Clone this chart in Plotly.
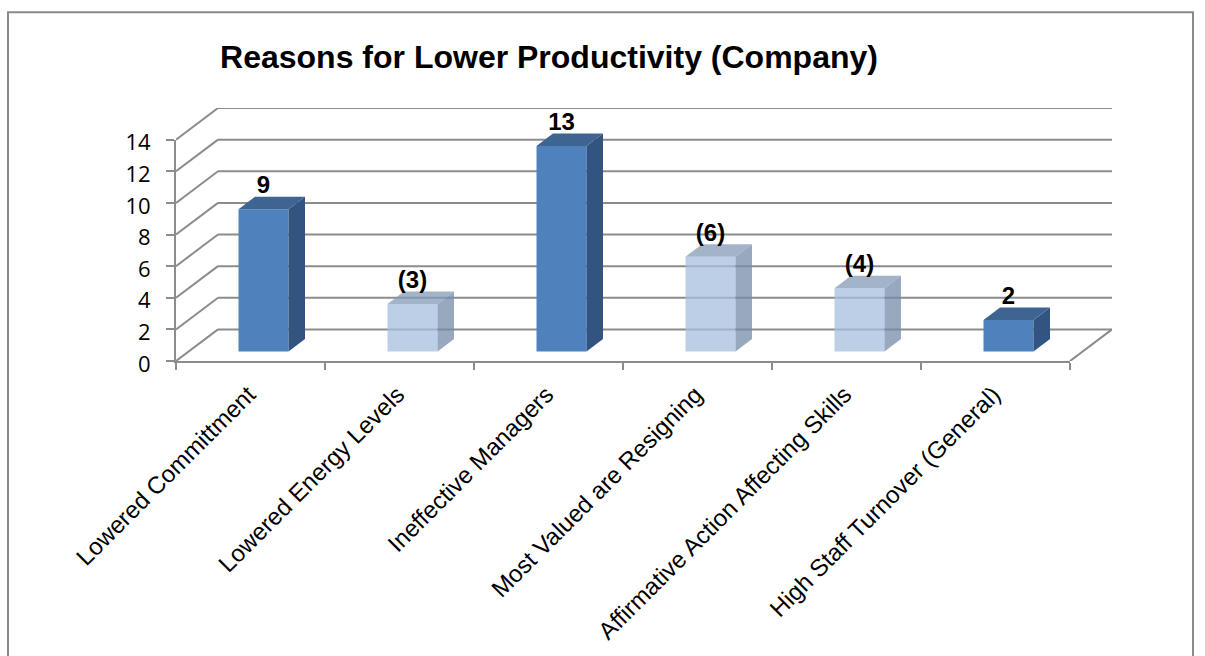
import plotly.graph_objects as go

TITLE = "Reasons for Lower Productivity (Company)"
categories = ["Lowered Committment", "Lowered Energy Levels", "Ineffective Managers",
              "Most Valued are Resigning", "Affirmative Action Affecting Skills",
              "High Staff Turnover (General)"]
values = [9, 3, 13, 6, 4, 2]
labels = ["9", "(3)", "13", "(6)", "(4)", "2"]
negative = [False, True, False, True, True, False]
y_ticks = [0, 2, 4, 6, 8, 10, 12, 14]

W, H = 1205, 656
PX_L, PX_R, PX_T, PX_B = 176, 1112, 108, 361.5
PX_CAT = (1070 - 176) / 6
PX_UNIT = (PX_B - PX_T) / 16
DEPTH_X = 42 / PX_CAT          # wall depth, in category units
DEPTH_Y = 2.0                  # wall depth, in value units
BAR_W = 50 / PX_CAT
BAR_OFF_X = 13 / PX_CAT
BAR_OFF_Y = 9.5 / PX_UNIT
SIDE_X = 16.5 / PX_CAT
SIDE_Y = 12.5 / PX_UNIT
LABEL_GAP = 2.0
GRID = "#8c8c8c"
LINE_W = 2

DARK = dict(front="#4f81bd", side="#325480", top="#3e6491")
LIGHT = dict(front="rgba(165,191,221,0.75)", side="rgba(118,140,170,0.75)", top="rgba(134,155,182,0.75)")

fig = go.Figure()

# floor and wall lines
shapes = []
def seg(x0, y0, x1, y1):
    shapes.append(dict(type="line", xref="x", yref="y", x0=x0, y0=y0, x1=x1, y1=y1,
                       layer="below", line=dict(color=GRID, width=LINE_W)))
for t in y_ticks:
    seg(DEPTH_X, t + DEPTH_Y, 6 + DEPTH_X, t + DEPTH_Y)
    seg(0, t, DEPTH_X, t + DEPTH_Y)
seg(6, 0, 6 + DEPTH_X, DEPTH_Y)

# chart frame, in paper fractions of the plot area
pw, ph = PX_R - PX_L, PX_B - PX_T
shapes.append(dict(type="rect", xref="paper", yref="paper",
                   x0=(8 - PX_L) / pw, x1=(1193 - PX_L) / pw,
                   y0=(PX_B - 670) / ph, y1=(PX_B - 12) / ph,
                   line=dict(color="#8a8a8a", width=LINE_W), layer="below"))

centers = [i + 0.5 + BAR_OFF_X for i in range(len(values))]
fig.add_trace(go.Bar(x=centers, y=values, base=[BAR_OFF_Y] * len(values), width=BAR_W,
                     marker=dict(color=[LIGHT["front"] if n else DARK["front"] for n in negative],
                                 line=dict(width=0)),
                     showlegend=False, hoverinfo="skip"))

for c, v, n in zip(centers, values, negative):
    pal = LIGHT if n else DARK
    x0, x1 = c - BAR_W / 2, c + BAR_W / 2
    b0, b1 = BAR_OFF_Y, BAR_OFF_Y + v
    fig.add_trace(go.Scatter(x=[x1, x1 + SIDE_X, x1 + SIDE_X, x1, x1],
                             y=[b0, b0 + SIDE_Y, b1 + SIDE_Y, b1, b0],
                             mode="lines", fill="toself", fillcolor=pal["side"],
                             line=dict(width=0), showlegend=False, hoverinfo="skip"))
    fig.add_trace(go.Scatter(x=[x0, x1, x1 + SIDE_X, x0 + SIDE_X, x0],
                             y=[b1, b1, b1 + SIDE_Y, b1 + SIDE_Y, b1],
                             mode="lines", fill="toself", fillcolor=pal["top"],
                             line=dict(width=0), showlegend=False, hoverinfo="skip"))

fig.add_trace(go.Scatter(x=centers, y=[v + LABEL_GAP for v in values], text=labels,
                         mode="text", textposition="middle center",
                         textfont=dict(family="Liberation Sans", size=24, color="#000000"),
                         texttemplate="<b>%{text}</b>", cliponaxis=False,
                         showlegend=False, hoverinfo="skip"))

# front axes live on their own subplot, spanning only the front plane
fig.add_trace(go.Scatter(x=[0], y=[0], xaxis="x2", yaxis="y2", mode="markers",
                         marker=dict(opacity=0), showlegend=False, hoverinfo="skip"))

fig.update_layout(
    width=W, height=H, autosize=False,
    margin=dict(l=PX_L, r=W - PX_R, t=PX_T, b=H - PX_B, pad=0),
    paper_bgcolor="white", plot_bgcolor="rgba(0,0,0,0)",
    barmode="overlay", showlegend=False, shapes=shapes,
    title=dict(text="<b>" + TITLE + "</b>", x=549 / W, y=1 - 57 / H, xanchor="center", yanchor="middle",
               xref="container", yref="container",
               font=dict(family="Liberation Sans", size=32, color="#000000")),
    xaxis=dict(range=[0, 6 + DEPTH_X], domain=[0, 1], tickmode="array", automargin=False,
               tickvals=[i + 0.5 for i in range(6)], ticktext=categories, tickangle=-45,
               ticks="outside", ticklen=9, tickcolor="rgba(0,0,0,0)", ticklabelshift=-2,
               tickfont=dict(family="Liberation Sans", size=24, color="#000000"),
               showgrid=False, zeroline=False, showline=False),
    yaxis=dict(range=[0, 16], domain=[0, 1], showticklabels=False, ticks="", automargin=False,
               showgrid=False, zeroline=False, showline=False),
    xaxis2=dict(range=[0, 6], domain=[0, 6 / (6 + DEPTH_X)], anchor="y2", automargin=False,
                tickmode="array", tickvals=list(range(7)), showticklabels=False,
                ticks="outside", ticklen=7, tickwidth=LINE_W, tickcolor=GRID,
                showgrid=False, zeroline=False, showline=True, linecolor=GRID, linewidth=LINE_W),
    yaxis2=dict(range=[0, 14], domain=[0, 14 / 16], anchor="x2", automargin=False,
                tickmode="array", tickvals=y_ticks, ticks="outside", ticklen=8,
                tickwidth=LINE_W, tickcolor=GRID, ticklabelstandoff=11, ticklabelshift=3,
                tickfont=dict(family="Open Sans", size=22, color="#000000"),
                showgrid=False, zeroline=False, showline=True, linecolor=GRID, linewidth=LINE_W),
)

fig.write_html("out.html", config={"displayModeBar": False},
               post_script="document.body.style.margin='0';")
